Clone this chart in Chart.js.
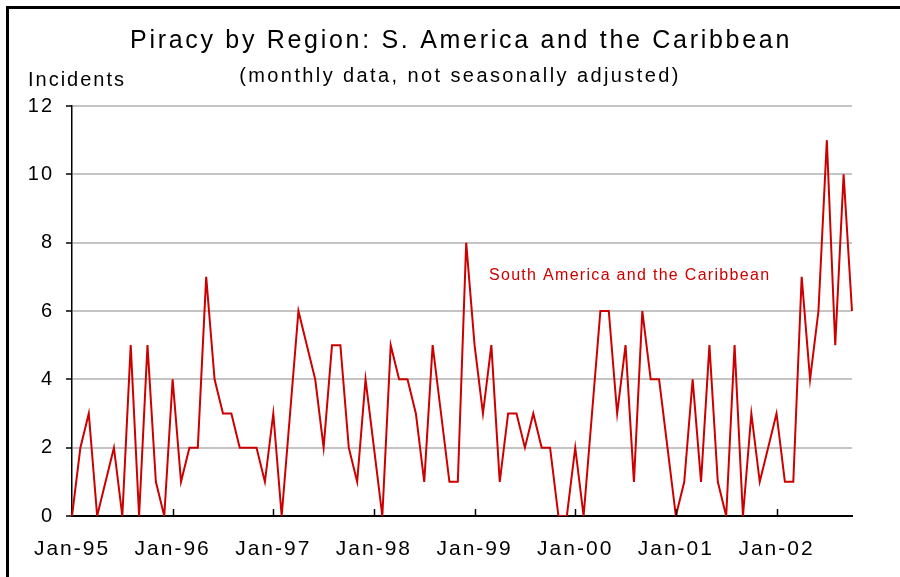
<!DOCTYPE html>
<html>
<head>
<meta charset="utf-8">
<script src="https://cdn.jsdelivr.net/npm/chart.js@4/dist/chart.umd.min.js"></script>
<style>
  html, body { margin: 0; padding: 0; background: #fff; }
  #wrap { width: 900px; height: 577px; position: relative; }
</style>
</head>
<body>
<div id="wrap"><canvas id="chart" width="900" height="577"></canvas></div>
<script>
// monthly incidents, Jan-95 .. Oct-02
const years = ['95', '96', '97', '98', '99', '00', '01', '02'];
const months = ['Jan', 'Feb', 'Mar', 'Apr', 'May', 'Jun', 'Jul', 'Aug', 'Sep', 'Oct', 'Nov', 'Dec'];

const inc95 = [0, 2, 3, 0, 1, 2, 0, 5, 0, 5, 1, 0];
const inc96 = [4, 1, 2, 2, 7, 4, 3, 3, 2, 2, 2, 1];
const inc97 = [3, 0, 3, 6, 5, 4, 2, 5, 5, 2, 1, 4];
const inc98 = [2, 0, 5, 4, 4, 3, 1, 5, 3, 1, 1, 8];
const inc99 = [5, 3, 5, 1, 3, 3, 2, 3, 2, 2, 0, 0];
const inc00 = [2, 0, 3, 6, 6, 3, 5, 1, 6, 4, 4, 2];
const inc01 = [0, 1, 4, 1, 5, 1, 0, 5, 0, 3, 1, 2];
const inc02 = [3, 1, 1, 7, 4, 6, 11, 5, 10, 6];

const incidents = [].concat(inc95, inc96, inc97, inc98, inc99, inc00, inc01, inc02);
const labels = [];
years.forEach(y => months.forEach(m => labels.push(m + '-' + y)));
labels.length = incidents.length;

const yTicks = [0, 2, 4, 6, 8, 10, 12];

const RED = '#cc0000';
const FONT = '"Liberation Sans", Arial, sans-serif';

// frame, titles, inline series label and the upward january ticks
const decor = {
    id: 'decor',
    beforeDraw(chart) {
        chart.ctx.letterSpacing = '2px';
    },
    afterDraw(chart) {
        const ctx = chart.ctx;
        const x = chart.scales.x;
        const area = chart.chartArea;

        ctx.save();
        ctx.fillStyle = '#000';
        ctx.fillRect(6, 6, 894, 3);
        ctx.fillRect(6, 6, 3, 571);

        // january tick marks, pointing up from the axis
        ctx.strokeStyle = '#000';
        ctx.lineWidth = 1.5;
        labels.forEach((l, i) => {
            if (i === 0 || !l.startsWith('Jan')) return;
            const px = Math.round(x.getPixelForValue(i)) + 0.5;
            ctx.beginPath();
            ctx.moveTo(px, area.bottom);
            ctx.lineTo(px, area.bottom - 7);
            ctx.stroke();
        });

        ctx.fillStyle = '#000';
        ctx.textBaseline = 'alphabetic';
        ctx.textAlign = 'center';
        ctx.font = '25px ' + FONT;
        ctx.letterSpacing = '2.7px';
        ctx.fillText('Piracy by Region: S. America and the Caribbean', 461, 48);

        ctx.font = '20px ' + FONT;
        ctx.letterSpacing = '2.4px';
        ctx.fillText('(monthly data, not seasonally adjusted)', 460, 82);

        ctx.textAlign = 'left';
        ctx.font = '20px ' + FONT;
        ctx.letterSpacing = '2px';
        ctx.fillText('Incidents', 28, 86);

        ctx.fillStyle = RED;
        ctx.font = '16px ' + FONT;
        ctx.letterSpacing = '1.3px';
        ctx.fillText('South America and the Caribbean', 489, 280);
        ctx.restore();
    }
};

new Chart(document.getElementById('chart'), {
    type: 'line',
    data: {
        labels: labels,
        datasets: [{
            label: 'South America and the Caribbean',
            data: incidents,
            borderColor: RED,
            borderWidth: 2,
            pointRadius: 0,
            tension: 0,
            fill: false
        }]
    },
    options: {
        responsive: false,
        animation: false,
        layout: { padding: { top: 106, right: 48, left: 0, bottom: 0 } },
        plugins: {
            legend: { display: false },
            tooltip: { enabled: false }
        },
        scales: {
            x: {
                type: 'category',
                offset: false,
                grid: { display: false, drawTicks: false },
                border: { display: true, color: '#000', width: 2 },
                ticks: {
                    autoSkip: false,
                    maxRotation: 0,
                    padding: 21,
                    color: '#000',
                    font: { family: FONT, size: 21 },
                    callback: (v, i) => labels[i].startsWith('Jan') ? labels[i] : ''
                },
                afterFit: s => { s.height = 61; }
            },
            y: {
                min: 0,
                max: 12,
                afterBuildTicks: s => { s.ticks = yTicks.map(v => ({ value: v })); },
                grid: {
                    color: '#c4c4c4',
                    lineWidth: 2,
                    tickLength: 6,
                    tickColor: '#000',
                    tickWidth: 1.5
                },
                border: { display: true, color: '#000', width: 1.5 },
                ticks: {
                    padding: 12,
                    color: '#000',
                    font: { family: FONT, size: 20 }
                },
                afterFit: s => { s.width = 72; }
            }
        }
    },
    plugins: [decor]
});
</script>
</body>
</html>
